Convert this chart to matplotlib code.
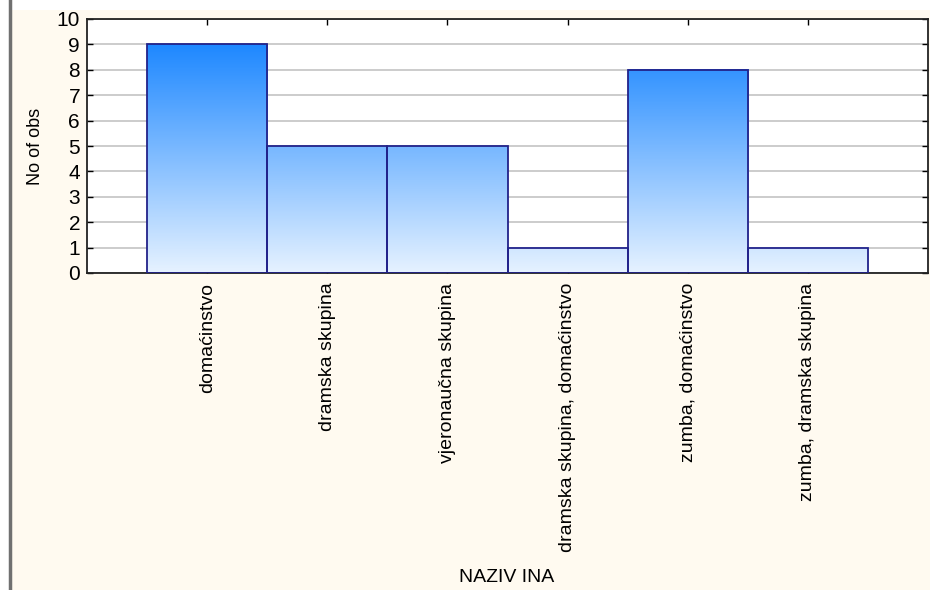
import matplotlib.pyplot as plt
import numpy as np
from matplotlib.colors import LinearSegmentedColormap
from matplotlib.lines import Line2D

categories = ['domaćinstvo', 'dramska skupina', 'vjeronaučna skupina',
              'dramska skupina, domaćinstvo', 'zumba, domaćinstvo',
              'zumba, dramska skupina']
counts = [9, 5, 5, 1, 8, 1]

plt.rcParams['font.family'] = ['Liberation Sans', 'DejaVu Sans']

fig = plt.figure(figsize=(9.38, 5.9), dpi=100)
fig.patch.set_facecolor('white')
# cream panel behind the chart
fig.patches.append(plt.Rectangle((10 / 938, 0), 920 / 938, 1 - 10 / 590,
                                 transform=fig.transFigure, facecolor='#fffaf0',
                                 edgecolor='none', zorder=-2))
fig.lines.append(Line2D([10 / 938, 10 / 938], [0, 1], transform=fig.transFigure,
                        color='#707070', lw=2.5))

ax = fig.add_axes([87 / 938, 1 - 273 / 590, (928 - 87) / 938, (273 - 19) / 590])
ax.set_facecolor('white')

cmap = LinearSegmentedColormap.from_list('bl', ['#e6f2ff', '#1e88ff'])
x = np.arange(len(categories))
for xi, h in zip(x, counts):
    grad = np.linspace(0, h / 9.0, 200).reshape(-1, 1)
    ax.imshow(grad, extent=[xi - 0.5, xi + 0.5, 0, h], origin='lower',
              aspect='auto', cmap=cmap, vmin=0, vmax=1, zorder=2)
ax.bar(x, counts, width=1.0, facecolor='none', edgecolor='#22228a',
       linewidth=1.3, zorder=3)

ax.set_xlim(-1, len(categories))
ax.set_ylim(0, 10)
ax.set_yticks(range(0, 11))
ax.set_xticks(x)
ax.set_xticklabels(categories, rotation=90, fontsize=14)
ax.tick_params(axis='y', labelsize=15)
ax.tick_params(direction='in', length=4, width=1, top=True, right=True, pad=5)
ax.tick_params(axis='x', pad=7)
ax.grid(axis='y', color='#c8c8c8', linewidth=1.3, zorder=1)
ax.set_axisbelow(True)
for s in ax.spines.values():
    s.set_linewidth(1.3)
    s.set_color('#222222')

ax.set_ylabel('No of obs', fontsize=13, labelpad=9)
fig.text(507 / 938, 1 - 577 / 590, 'NAZIV INA', ha='center', va='center', fontsize=14)

fig.savefig('out.png', dpi=100)
